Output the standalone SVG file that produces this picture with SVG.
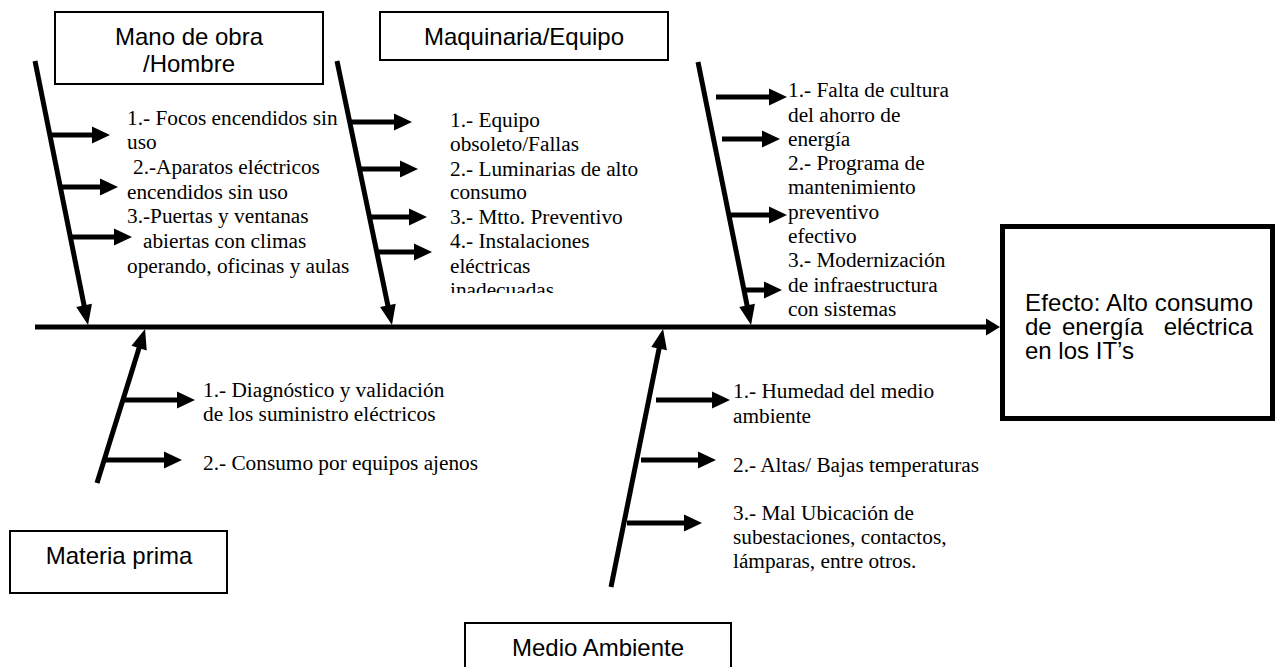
<svg xmlns="http://www.w3.org/2000/svg" width="1276" height="667" viewBox="0 0 1276 667">
<style>
.box{fill:#fff;stroke:#000;stroke-width:2}
.eff{fill:#fff;stroke:#000;stroke-width:5}
.ttl{font-family:"Liberation Sans",Arial,sans-serif;font-size:24px;fill:#000}
.itm{font-family:"Liberation Serif","Times New Roman",serif;font-size:21.3px;fill:#000}
.bone{stroke:#000;stroke-width:5;fill:none;marker-end:url(#bh)}
.sub{stroke:#000;stroke-width:5;fill:none;marker-end:url(#sh)}
.spine{stroke:#000;stroke-width:5;fill:none;marker-end:url(#ph)}
</style>
<defs>
<marker id="bh" markerUnits="userSpaceOnUse" viewBox="0 -9 21 18" refX="1" refY="0" markerWidth="21" markerHeight="18" orient="auto" overflow="visible"><path d="M0,-8 L20,0 L0,8 Z" fill="#000"/></marker>
<marker id="sh" markerUnits="userSpaceOnUse" viewBox="0 -9 19 18" refX="1" refY="0" markerWidth="19" markerHeight="18" orient="auto" overflow="visible"><path d="M0,-8.5 L18,0 L0,8.5 Z" fill="#000"/></marker>
<marker id="ph" markerUnits="userSpaceOnUse" viewBox="0 -9 15 18" refX="1" refY="0" markerWidth="15" markerHeight="18" orient="auto" overflow="visible"><path d="M0,-8.5 L14,0 L0,8.5 Z" fill="#000"/></marker>
<clipPath id="clipB"><rect x="440" y="100" width="260" height="193"/></clipPath>
</defs>

<g id="connectors">
<line class="spine" x1="35" y1="327" x2="987" y2="327"/>
<line class="bone" x1="35" y1="61" x2="84.3" y2="306.4"/>
<line class="bone" x1="337" y1="61" x2="388.1" y2="306.4"/>
<line class="bone" x1="698" y1="62" x2="747.3" y2="306.4"/>
<line class="bone" x1="97" y1="483" x2="139.4" y2="347.1"/>
<line class="bone" x1="611" y1="587" x2="659.3" y2="347.6"/>
<line class="sub" x1="50" y1="135" x2="93" y2="135"/>
<line class="sub" x1="60" y1="187" x2="101" y2="187"/>
<line class="sub" x1="71" y1="237" x2="115" y2="237"/>
<line class="sub" x1="350" y1="122" x2="395" y2="122"/>
<line class="sub" x1="360" y1="169" x2="401" y2="169"/>
<line class="sub" x1="370" y1="217" x2="410" y2="217"/>
<line class="sub" x1="377" y1="252" x2="415" y2="252"/>
<line class="sub" x1="716" y1="97" x2="770" y2="97"/>
<line class="sub" x1="722" y1="139" x2="763" y2="139"/>
<line class="sub" x1="731" y1="215" x2="770" y2="215"/>
<line class="sub" x1="746" y1="290" x2="765" y2="290"/>
<line class="sub" x1="123" y1="400" x2="178" y2="400"/>
<line class="sub" x1="104" y1="460" x2="165" y2="460"/>
<line class="sub" x1="656" y1="400" x2="713" y2="400"/>
<line class="sub" x1="641" y1="460" x2="699" y2="460"/>
<line class="sub" x1="627" y1="523" x2="685" y2="523"/>
</g>

<g id="mano-de-obra">
<rect class="box" x="55" y="12" width="268" height="72"/>
<text class="ttl" x="189" y="45" text-anchor="middle">Mano de obra</text>
<text class="ttl" x="189" y="72" text-anchor="middle">/Hombre</text>
</g>
<g id="mano-de-obra-causas">
<text class="itm" x="127" y="125">1.- Focos encendidos sin</text>
<text class="itm" x="127" y="149">uso</text>
<text class="itm" x="133" y="174">2.-Aparatos eléctricos</text>
<text class="itm" x="127" y="199">encendidos sin uso</text>
<text class="itm" x="127" y="223">3.-Puertas y ventanas</text>
<text class="itm" x="143" y="248">abiertas con climas</text>
<text class="itm" x="127" y="273">operando, oficinas y aulas</text>
</g>

<g id="maquinaria-equipo">
<rect class="box" x="380" y="12" width="288" height="48"/>
<text class="ttl" x="524" y="45" text-anchor="middle">Maquinaria/Equipo</text>
</g>
<g id="maquinaria-causas" clip-path="url(#clipB)">
<text class="itm" x="450" y="127">1.- Equipo</text>
<text class="itm" x="450" y="151">obsoleto/Fallas</text>
<text class="itm" x="450" y="176">2.- Luminarias de alto</text>
<text class="itm" x="450" y="199">consumo</text>
<text class="itm" x="450" y="224">3.- Mtto. Preventivo</text>
<text class="itm" x="450" y="248">4.- Instalaciones</text>
<text class="itm" x="450" y="273">eléctricas</text>
<text class="itm" x="450" y="297">inadecuadas</text>
</g>

<g id="tercera-causas">
<text class="itm" x="788" y="97">1.- Falta de cultura</text>
<text class="itm" x="788" y="122">del ahorro de</text>
<text class="itm" x="788" y="146">energía</text>
<text class="itm" x="788" y="170">2.- Programa de</text>
<text class="itm" x="788" y="194">mantenimiento</text>
<text class="itm" x="788" y="219">preventivo</text>
<text class="itm" x="788" y="243">efectivo</text>
<text class="itm" x="788" y="267">3.- Modernización</text>
<text class="itm" x="788" y="292">de infraestructura</text>
<text class="itm" x="788" y="316">con sistemas</text>
</g>

<g id="materia-prima">
<rect class="box" x="10" y="531" width="217" height="62"/>
<text class="ttl" x="119" y="564" text-anchor="middle">Materia prima</text>
</g>
<g id="materia-prima-causas">
<text class="itm" x="203" y="397">1.- Diagnóstico y validación</text>
<text class="itm" x="203" y="421">de los suministro eléctricos</text>
<text class="itm" x="203" y="470">2.- Consumo por equipos ajenos</text>
</g>

<g id="medio-ambiente">
<rect class="box" x="465" y="623" width="266" height="70"/>
<text class="ttl" x="598" y="656" text-anchor="middle">Medio Ambiente</text>
</g>
<g id="medio-ambiente-causas">
<text class="itm" x="733" y="398">1.- Humedad del medio</text>
<text class="itm" x="733" y="423">ambiente</text>
<text class="itm" x="733" y="472">2.- Altas/ Bajas temperaturas</text>
<text class="itm" x="733" y="520">3.- Mal Ubicación de</text>
<text class="itm" x="733" y="544">subestaciones, contactos,</text>
<text class="itm" x="733" y="568">lámparas, entre otros.</text>
</g>

<g id="efecto">
<rect class="eff" x="1002.5" y="226.5" width="270" height="192"/>
<text class="ttl" x="1025" y="311" textLength="228" lengthAdjust="spacing">Efecto: Alto consumo</text>
<text class="ttl" x="1025" y="335">de</text>
<text class="ttl" x="1062" y="335">energía</text>
<text class="ttl" x="1253" y="335" text-anchor="end">eléctrica</text>
<text class="ttl" x="1025" y="359">en los IT’s</text>
</g>
</svg>
